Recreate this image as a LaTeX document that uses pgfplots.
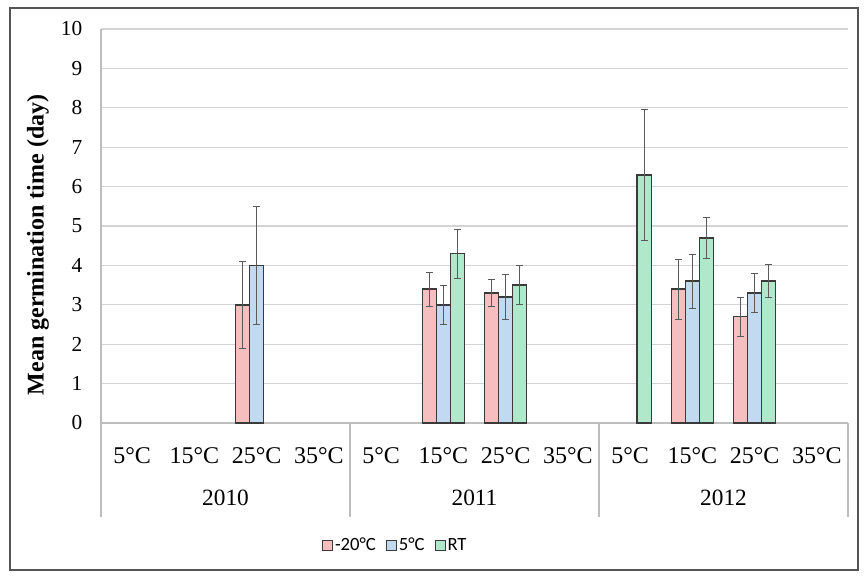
\documentclass[border=0pt]{standalone}
\usepackage{fontspec}
\setmainfont{Liberation Serif}
\newfontfamily\legfont{Carlito}
\usepackage{pgfplots}
\pgfplotsset{compat=1.18}
\definecolor{redf}{HTML}{F6BEBE}
\definecolor{bluef}{HTML}{C2D9F2}
\definecolor{greenf}{HTML}{B0E8CC}
\definecolor{edge}{HTML}{3A3A3A}
\definecolor{errc}{HTML}{5A5A5A}
\definecolor{gridc}{HTML}{D4D4D4}
\definecolor{axc}{HTML}{BDBDBD}
\definecolor{framec}{HTML}{555555}
\pgfplotsset{
  errstyle/.style={error bars/.cd, y dir=both, y explicit,
    error bar style={errc, line width=0.6pt},
    error mark options={errc, rotate=90, mark size=2.5pt, line width=0.6pt}},
  sqlegend/.style={legend image code/.code={\draw[##1, line width=0.7pt] (0pt,-3.75pt) rectangle (7.5pt,3.75pt);}},
}
\begin{document}
\begin{tikzpicture}
\useasboundingbox (-75.75pt,-114.75pt) rectangle (573.75pt,317.25pt);
\begin{axis}[
  scale only axis, width=560.25pt, height=295.5pt,
  xmin=-0.5, xmax=11.5, ymin=0, ymax=10,
  ybar, bar width=0.226,
  axis lines*=left,
  axis line style={axc, line width=0.8pt},
  major tick length=0pt,
  ymajorgrids, grid style={gridc, line width=0.8pt},
  ytick={0,1,...,10},
  xtick={0,1,...,11},
  xticklabels={5°C,15°C,25°C,35°C,5°C,15°C,25°C,35°C,5°C,15°C,25°C,35°C},
  /pgf/number format/assume math mode=true,
  yticklabel style={font=\fontsize{16}{18}\selectfont, xshift=-10.5pt},
  xticklabel style={font=\fontsize{18}{20}\selectfont, anchor=center, yshift=-24.75pt},
  ylabel={Mean germination time (day)},
  ylabel style={font=\bfseries\fontsize{18}{21}\selectfont, at={(axis description cs:0,0.452)}, anchor=center, yshift=47.25pt},
  clip=false,
  legend style={at={(axis description cs:0.394,-0.31)}, anchor=center, draw=none, fill=none,
    font=\legfont\fontsize{14}{16}\selectfont, legend columns=3,
    nodes={inner xsep=1.5pt},
    /tikz/every even column/.append style={column sep=0pt},
    /tikz/every odd column/.append style={column sep=0pt}},
]
\addplot[fill=redf, draw=edge, line width=1.1pt, bar shift=-0.226, sqlegend, errstyle]
  coordinates {(2,3.0) +- (0,1.1) (5,3.4) +- (0,0.43) (6,3.3) +- (0,0.35) (9,3.4) +- (0,0.76) (10,2.7) +- (0,0.5)};
\addplot[fill=bluef, draw=edge, line width=1.1pt, bar shift=0, sqlegend, errstyle]
  coordinates {(2,4.0) +- (0,1.5) (5,3.0) +- (0,0.5) (6,3.2) +- (0,0.57) (9,3.6) +- (0,0.68) (10,3.3) +- (0,0.5)};
\addplot[fill=greenf, draw=edge, line width=1.1pt, bar shift=0.226, sqlegend, errstyle]
  coordinates {(5,4.3) +- (0,0.62) (6,3.5) +- (0,0.5) (8,6.3) +- (0,1.67) (9,4.7) +- (0,0.52) (10,3.6) +- (0,0.42)};
\legend{-20°C\rule{6pt}{0pt},5°C\rule{6pt}{0pt},RT}
\draw[axc, line width=0.8pt] (axis cs:-0.5,0) -- ++(0pt,-70.5pt);
\draw[axc, line width=0.8pt] (axis cs:3.5,0) -- ++(0pt,-70.5pt);
\draw[axc, line width=0.8pt] (axis cs:7.5,0) -- ++(0pt,-70.5pt);
\draw[axc, line width=0.8pt] (axis cs:11.5,0) -- ++(0pt,-70.5pt);
\node[font=\fontsize{17.5}{19}\selectfont, yshift=-56.25pt] at (axis cs:1.5,0) {2010};
\node[font=\fontsize{17.5}{19}\selectfont, yshift=-56.25pt] at (axis cs:5.5,0) {2011};
\node[font=\fontsize{17.5}{19}\selectfont, yshift=-56.25pt] at (axis cs:9.5,0) {2012};
\end{axis}
\draw[framec, line width=1.2pt] (-68.25pt,-110.25pt) rectangle (567.75pt,311.25pt);
\end{tikzpicture}
\end{document}
